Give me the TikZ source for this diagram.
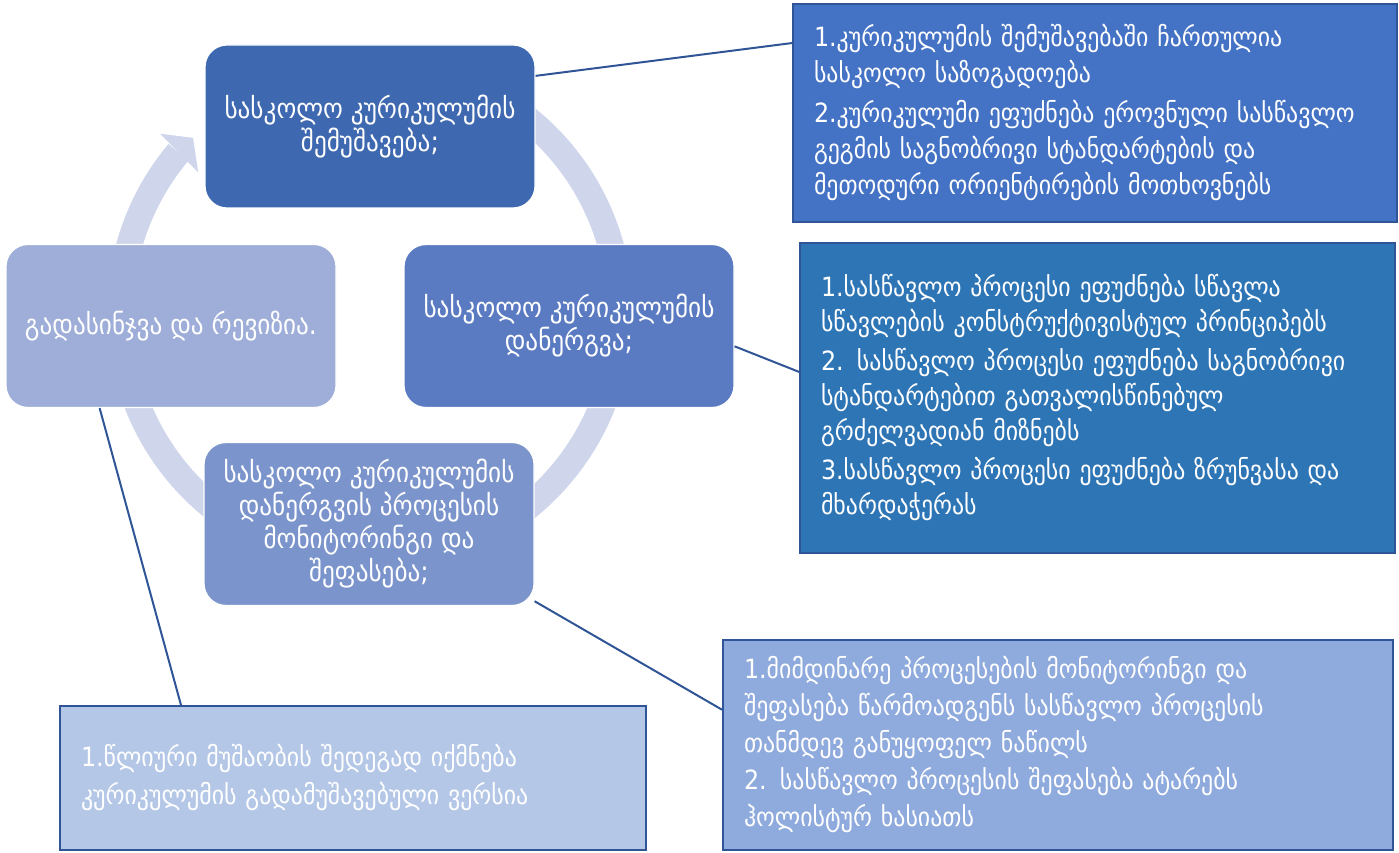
\documentclass[tikz,border=0pt]{standalone}
\usepackage{fontspec}
\setmainfont{DejaVu Sans Condensed}
\usetikzlibrary{calc}
\definecolor{ringcol}{HTML}{CFD5EB}
\definecolor{stagea}{HTML}{3E68B0}
\definecolor{stageb}{HTML}{5A7BC2}
\definecolor{stagec}{HTML}{7B95CC}
\definecolor{staged}{HTML}{9EAED8}
\definecolor{notea}{HTML}{4472C4}
\definecolor{noteb}{HTML}{2E75B6}
\definecolor{notec}{HTML}{8FAADC}
\definecolor{noted}{HTML}{B4C7E7}
\definecolor{noteline}{HTML}{2F5597}
\tikzset{
  stage/.style={draw=white, line width=1.2pt, rounded corners=22pt, text=white,
    align=center, minimum width=330pt, minimum height=163pt, inner sep=4pt,
    font=\fontsize{28}{33}\selectfont},
  note/.style={draw=noteline, line width=2pt, text=white, align=left,
    inner xsep=21pt, inner ysep=6pt, font=\fontsize{26.5}{35}\selectfont},
  link/.style={draw=noteline, line width=2pt},
}
\begin{document}
\begin{tikzpicture}[x=1pt, y=1pt]
  \useasboundingbox (0,0) rectangle (1399,852);
  %%%%% CYCLE %%%%%
  \coordinate (ring) at (370,539);
  \draw[ringcol, line width=26pt] ([shift={(ring)}]140:250) arc (140:485:250);
  \fill[ringcol] ([shift={(ring)}]139.5:276) -- ([shift={(ring)}]135.3:249)
    -- ([shift={(ring)}]140.7:222) -- cycle;

  \node[stage, fill=stagea] (devel) at (370,725.5) {სასკოლო კურიკულუმის\\შემუშავება;};
  \node[stage, fill=stageb] (intro) at (569,526) {სასკოლო კურიკულუმის\\დანერგვა;};
  \node[stage, fill=stagec] (monit) at (369,328) {სასკოლო კურიკულუმის\\დანერგვის პროცესის\\მონიტორინგი და\\შეფასება;};
  \node[stage, fill=staged] (revis) at (171,526) {გადასინჯვა და რევიზია.};

  %%%%% NOTES %%%%%
  \node[note, fill=notea, minimum width=604pt, minimum height=218pt, text width=562pt,
    font=\fontsize{26.5}{36}\selectfont]
    (devnote) at (1095,739) {1.კურიკულუმის შემუშავებაში ჩართულია\\სასკოლო საზოგადოება\\[4pt]2.კურიკულუმი ეფუძნება ეროვნული სასწავლო\\გეგმის საგნობრივი სტანდარტების და\\მეთოდური ორიენტირების მოთხოვნებს};
  \node[note, fill=noteb, minimum width=595pt, minimum height=310pt, text width=553pt]
    (intnote) at (1097.5,454) {1.სასწავლო პროცესი ეფუძნება სწავლა\\სწავლების კონსტრუქტივისტულ პრინციპებს\\[4pt]2. სასწავლო პროცესი ეფუძნება საგნობრივი\\სტანდარტებით გათვალისწინებულ\\გრძელვადიან მიზნებს\\[4pt]3.სასწავლო პროცესი ეფუძნება ზრუნვასა და\\მხარდაჭერას};
  \node[note, fill=notec, minimum width=670pt, minimum height=210pt, text width=628pt,
    font=\fontsize{26.5}{37}\selectfont]
    (monnote) at (1058,107) {1.მიმდინარე პროცესების მონიტორინგი და\\შეფასება წარმოადგენს სასწავლო პროცესის\\თანმდევ განუყოფელ ნაწილს\\2. სასწავლო პროცესის შეფასება ატარებს\\ჰოლისტურ ხასიათს};
  \node[note, fill=noted, minimum width=586pt, minimum height=144pt, text width=544pt,
    font=\fontsize{26.5}{38}\selectfont]
    (revnote) at (353,74) {1.წლიური მუშაობის შედეგად იქმნება\\კურიკულუმის გადამუშავებული ვერსია\\[8pt]};

  %%%%% LINKS %%%%%
  \draw[link] (devel.17.5) -- (devnote.167);
  \draw[link] (intro.-7) -- (intnote.175.6);
  \draw[link] (monit.-25) -- (monnote.174.8);
  \draw[link] (revis.-131) -- (revnote.157);
\end{tikzpicture}
\end{document}
